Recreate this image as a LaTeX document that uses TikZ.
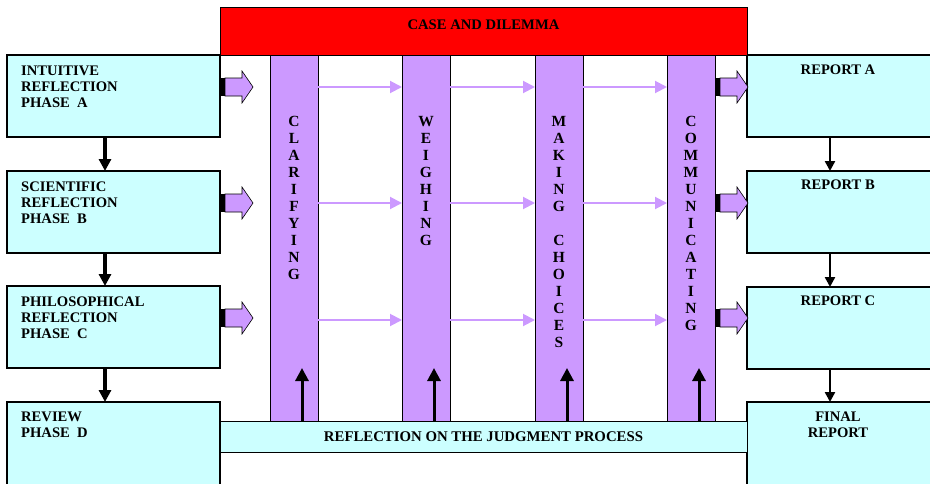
\documentclass[tikz,border=0pt]{standalone}
\usepackage{fontspec}
\setmainfont{Liberation Serif}
\usetikzlibrary{calc,arrows.meta}
\definecolor{boxcyan}{RGB}{204,255,255}
\definecolor{lav}{RGB}{204,153,255}
\definecolor{redbox}{RGB}{255,0,0}
\tikzset{
 box/.style={draw=black, line width=1.1pt, fill=boxcyan, inner sep=0pt, outer sep=0pt, anchor=north west, minimum width=213pt, minimum height=82pt},
 rbox/.style={box, minimum width=190pt},
 bar/.style={draw=black, line width=1pt, fill=lav, inner sep=0pt, outer sep=0pt, anchor=north west, minimum width=48pt, minimum height=366pt},
 txt/.style={font=\fontsize{14.6}{16}\selectfont\bfseries, inner sep=0pt, align=left},
 ctxt/.style={txt, align=center},
 vtxt/.style={font=\fontsize{15.5}{17}\selectfont\bfseries, inner sep=0pt, align=center, anchor=north},
 darr/.style={line width=3.2pt, -{Triangle[length=12pt,width=12pt]}},
 rdarr/.style={line width=2.4pt, -{Triangle[length=10pt,width=10pt]}},
 uarr/.style={line width=3pt, -{Triangle[length=13pt,width=13pt]}},
 larr/.style={draw=lav, line width=2pt, -{Triangle[length=12pt,width=12pt]}},
 fatarr/.pic={
   \fill[black] (0,-9) rectangle (5,9);
   \draw[black, line width=0.6pt, fill=lav] (5,-9) -- (22,-9) -- (22,-16) -- (33,0) -- (22,16) -- (22,9) -- (5,9) -- cycle;
 }
}
\begin{document}
\begin{tikzpicture}[x=1pt,y=-1pt]
\useasboundingbox (0,0) rectangle (930,483);
\clip (0,0) rectangle (930,483);
% left boxes
\node[box] (A) at (7,55) {};
\node[box] (B) at (7,171) {};
\node[box] (C) at (7,286) {};
\node[box, minimum height=110pt] (D) at (7,402) {};
% right boxes
\node[rbox] (RA) at (747,55) {};
\node[rbox] (RB) at (747,171) {};
\node[rbox] (RC) at (747,287) {};
\node[rbox, minimum height=110pt] (RF) at (747,402) {};
% bars
\node[bar] (c1) at (270,55) {};
\node[bar] (c2) at (402,55) {};
\node[bar] (c3) at (535,55) {};
\node[bar] (c4) at (667,55) {};
% red top
\node[draw=black, line width=1pt, fill=redbox, inner sep=0pt, outer sep=0pt, anchor=north west, minimum width=527pt, minimum height=48pt] (case) at (220,7) {};
\node[ctxt, anchor=base] (tcase) at ($(case.north)+(0,22)$) {CASE AND DILEMMA};
% bottom bar
\node[draw=black, line width=1pt, fill=boxcyan, inner sep=0pt, outer sep=0pt, anchor=north west, minimum width=527pt, minimum height=31pt, font=\fontsize{14.8}{16}\selectfont\bfseries] (refl) at (220,421) {REFLECTION ON THE JUDGMENT PROCESS};
% left texts
\node[txt, anchor=north west] (tA) at ($(A.north west)+(14,11)$) {INTUITIVE\\REFLECTION\\PHASE\ \ A};
\node[txt, anchor=north west] (tB) at ($(B.north west)+(14,11)$) {SCIENTIFIC\\REFLECTION\\PHASE\ \ B};
\node[txt, anchor=north west] (tC) at ($(C.north west)+(14,11)$) {PHILOSOPHICAL\\REFLECTION\\PHASE\ \ C};
\node[txt, anchor=north west] (tD) at ($(D.north west)+(14,10)$) {REVIEW\\PHASE\ \ D};
% right texts
\node[ctxt, anchor=north] (tRA) at ($(RA.north west)+(91,10)$) {REPORT A};
\node[ctxt, anchor=north] (tRB) at ($(RB.north west)+(91,9)$) {REPORT B};
\node[ctxt, anchor=north] (tRC) at ($(RC.north west)+(91,9)$) {REPORT C};
\node[ctxt, anchor=north] (tRF) at ($(RF.north west)+(91,10)$) {FINAL\\REPORT};
% vertical texts
\node[vtxt] (v1) at ($(c1.north)+(0,61)$) {C\\L\\A\\R\\I\\F\\Y\\I\\N\\G};
\node[vtxt] (v2) at ($(c2.north)+(0,61)$) {W\\E\\I\\G\\H\\I\\N\\G};
\node[vtxt] (v3) at ($(c3.north)+(0,61)$) {M\\A\\K\\I\\N\\G\\~\\C\\H\\O\\I\\C\\E\\S};
\node[vtxt] (v4) at ($(c4.north)+(0,61)$) {C\\O\\M\\M\\U\\N\\I\\C\\A\\T\\I\\N\\G};
% thin lavender arrows between bars
\foreach \a/\b in {c1/c2,c2/c3,c3/c4}
  \foreach \dy in {32,148,265}
    \draw[larr] ($(\a.north east)+(0,\dy)$) -- ($(\b.north west)+(0,\dy)$);
% fat arrows
\foreach \n in {A,B,C}
  \pic at ($(\n.north east)+(0,32)$) {fatarr};
\foreach \dy in {32,148,263}
  \pic at ($(c4.north east)+(0,\dy)$) {fatarr};
% down arrows left
\draw[darr] ($(A.south)+(-8.5,0)$) -- ($(B.north)+(-8.5,0)$);
\draw[darr] ($(B.south)+(-8.5,0)$) -- ($(C.north)+(-8.5,0)$);
\draw[darr] ($(C.south)+(-8.5,0)$) -- ($(D.north)+(-8.5,0)$);
% down arrows right
\draw[rdarr] ($(RA.south)+(-12,0)$) -- ($(RB.north)+(-12,0)$);
\draw[rdarr] ($(RB.south)+(-12,0)$) -- ($(RC.north)+(-12,0)$);
\draw[rdarr] ($(RC.south)+(-12,0)$) -- ($(RF.north)+(-12,0)$);
% up arrows in bars
\foreach \c in {c1,c2,c3,c4}
  \draw[uarr] ($(\c.south)+(8,0)$) -- ($(\c.south)+(8,-53)$);
\end{tikzpicture}
\end{document}
